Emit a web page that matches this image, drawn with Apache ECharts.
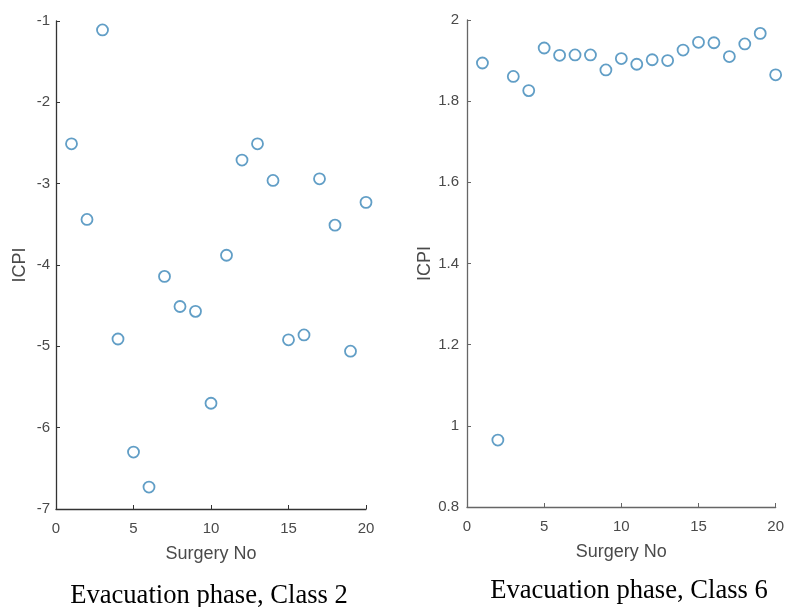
<!DOCTYPE html>
<html>
<head>
<meta charset="utf-8">
<script src="https://cdn.jsdelivr.net/npm/echarts@6/dist/echarts.min.js"></script>
<style>html,body{margin:0;padding:0;background:#fff}#c{width:787px;height:607px}</style>
</head>
<body>
<div id="c"></div>
<script>
var surgeryNo = [1,2,3,4,5,6,7,8,9,10,11,12,13,14,15,16,17,18,19,20];
var class2 = [-2.51,-3.44,-1.11,-4.91,-6.30,-6.73,-4.14,-4.51,-4.57,-5.70,-3.88,-2.71,-2.51,-2.96,-4.92,-4.86,-2.94,-3.51,-5.06,-3.23];
var class6 = [1.894,0.965,1.861,1.826,1.931,1.913,1.914,1.914,1.877,1.905,1.891,1.902,1.900,1.926,1.945,1.944,1.910,1.941,1.967,1.865];
var titles = ['Evacuation phase, Class 2', 'Evacuation phase, Class 6'];
var xLabel = 'Surgery No';
var yLabel = 'ICPI';

function pairs(ys){ return surgeryNo.map(function(x,i){ return [x, ys[i]]; }); }

var chart = echarts.init(document.getElementById('c'), null, {renderer:'canvas'});
var tickLabel = {color:'#4a4a4a', fontSize:15, fontFamily:'Liberation Sans, Arial, sans-serif'};
var nameStyle = {color:'#4a4a4a', fontSize:18, fontFamily:'Liberation Sans, Arial, sans-serif'};
function xAx(gi, lineColor){
  return {type:'value', gridIndex:gi, min:0, max:20, interval:5,
    name:xLabel, nameLocation:'middle', nameGap:36, nameTextStyle:nameStyle,
    axisLine:{onZero:false, lineStyle:{color:lineColor, width:1.3}},
    axisTick:{inside:true, length:4, lineStyle:{color:lineColor}},
    axisLabel:Object.assign({margin:12}, tickLabel),
    splitLine:{show:false}};
}
function yAx(gi, mn, mx, iv, lineColor, gap, m){
  return {type:'value', gridIndex:gi, min:mn, max:mx, interval:iv,
    name:yLabel, nameLocation:'middle', nameGap:gap, nameTextStyle:nameStyle,
    axisLine:{show:true, onZero:false, lineStyle:{color:lineColor, width:1.3}},
    axisTick:{show:true, inside:true, length:4, lineStyle:{color:lineColor}},
    axisLabel:Object.assign({margin:m}, tickLabel),
    splitLine:{show:false}};
}
var mark = {color:'#ffffff', borderColor:'#3a86b8', borderWidth:1.8};
chart.setOption({
  animation:false,
  backgroundColor:'#ffffff',
  grid:[
    {left:56, top:21, width:310, height:488},
    {left:467, top:20, width:310, height:487}
  ],
  xAxis:[xAx(0,'#333333'), xAx(1,'#666666')],
  yAxis:[yAx(0,-7,-1,1,'#333333',27,6), yAx(1,0.8,2,0.2,'#666666',33,8)],
  title:[
    {text:titles[0], left:204, top:578, textAlign:'center', textStyle:{fontFamily:'Liberation Serif, Times New Roman, serif', fontWeight:'normal', fontSize:26.6, color:'#000'}},
    {text:titles[1], left:624, top:573, textAlign:'center', textStyle:{fontFamily:'Liberation Serif, Times New Roman, serif', fontWeight:'normal', fontSize:26.6, color:'#000'}}
  ],
  series:[
    {type:'scatter', xAxisIndex:0, yAxisIndex:0, data:pairs(class2), symbol:'circle', symbolSize:11, itemStyle:mark},
    {type:'scatter', xAxisIndex:1, yAxisIndex:1, data:pairs(class6), symbol:'circle', symbolSize:11, itemStyle:mark}
  ]
});
</script>
</body>
</html>
